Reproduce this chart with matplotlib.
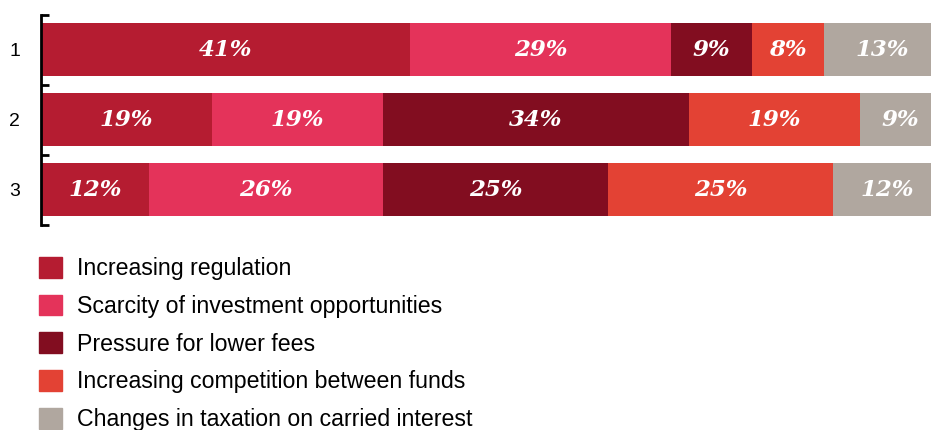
import matplotlib
matplotlib.use("Agg")
import matplotlib.pyplot as plt
import matplotlib.patches as mpatches
import numpy as np

# survey rows and answer shares (%)
rows = ["1", "2", "3"]
categories = [
    "Increasing regulation",
    "Scarcity of investment opportunities",
    "Pressure for lower fees",
    "Increasing competition between funds",
    "Changes in taxation on carried interest",
]
regulation = [41, 19, 12]
scarcity = [29, 19, 26]
fees = [9, 34, 25]
competition = [8, 19, 25]
taxation = [13, 9, 12]
colors = ["#B51C31", "#E4335A", "#820D20", "#E34234", "#B0A79F"]

series = [regulation, scarcity, fees, competition, taxation]

fig = plt.figure(figsize=(9.31, 4.30), dpi=100)
# axes runs a little past the right edge, so the last segment gets cut off
ax = fig.add_axes([41 / 931, 205.5 / 430, 900 / 931, 210 / 430])

y = np.arange(len(rows))
left = np.zeros(len(rows))
for vals, col in zip(series, colors):
    vals = np.array(vals)
    ax.barh(y, vals, left=left, height=0.75, color=col, edgecolor="none")
    for yi, v, l in zip(y, vals, left):
        ax.text(l + v / 2, yi, f"{v}%", ha="center", va="center",
                color="white", fontsize=16.5, fontweight="bold",
                fontstyle="italic", family="DejaVu Serif")
    left += vals

ax.set_xlim(0, 100)
ax.set_ylim(2.5, -0.5)
ax.set_yticks(y)
ax.set_yticklabels(rows, fontsize=14, family="Liberation Sans")
ax.tick_params(axis="y", which="major", length=0, pad=15)
ax.set_yticks(np.arange(-0.5, 3, 1), minor=True)
ax.tick_params(axis="y", which="minor", direction="in", length=6, width=2, color="black")
ax.set_xticks([])
for s in ["top", "right", "bottom"]:
    ax.spines[s].set_visible(False)
ax.spines["left"].set_linewidth(2)

handles = [mpatches.Patch(color=c, label=lab) for c, lab in zip(colors, categories)]
fig.legend(handles=handles, loc="upper left", bbox_to_anchor=(39 / 931, 1 - 257 / 430),
           frameon=False, prop={"family": "Liberation Sans", "size": 16.7},
           handlelength=1.0, handleheight=1.0, labelspacing=0.62, handletextpad=0.65,
           borderaxespad=0, borderpad=0)

fig.savefig("out.png", dpi=100)
